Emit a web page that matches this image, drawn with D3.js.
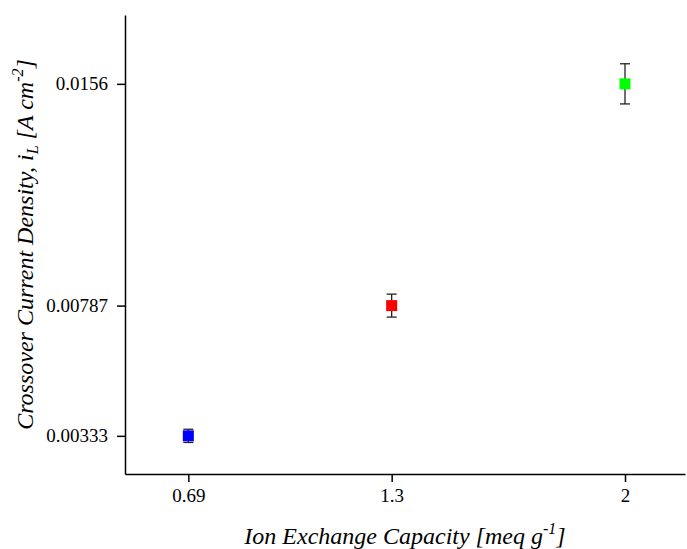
<!DOCTYPE html>
<html>
<head>
<meta charset="utf-8">
<script src="https://cdn.jsdelivr.net/npm/d3@7"></script>
<style>
  body { margin: 0; background: #fff; }
  svg { display: block; font-family: "Liberation Serif", "Times New Roman", serif; }
  .axis path, .axis line { stroke: #000; stroke-width: 1.5; }
  .axis text { font-family: "Liberation Serif", "Times New Roman", serif; font-size: 19px; fill: #000; }
</style>
</head>
<body>
<div id="chart"></div>
<script>
// data
const capacity = [0.69, 1.3, 2];
const current = [0.00333, 0.00787, 0.0156];
const errors = [0.00023, 0.0004, 0.0007];
const colors = ["#0000ff", "#ff0000", "#00ff00"];
const xTicks = [0.69, 1.3, 2];
const yTicks = [0.00333, 0.00787, 0.0156];

const width = 687, height = 549;
const margin = { top: 15, left: 125, right: 2, bottom: 75 };
const chartWidth = width - margin.left - margin.right;
const chartHeight = height - margin.top - margin.bottom;

const points = capacity.map((c, i) => ({ x: c, y: current[i], e: errors[i], color: colors[i] }));

const xScale = d3.scaleLinear()
  .domain([0.5, 2.18])
  .range([0, chartWidth]);

const yScale = d3.scaleLinear()
  .domain([0.002, 0.018])
  .range([chartHeight, 0]);

const svg = d3.select("#chart")
  .append("svg")
  .attr("width", width)
  .attr("height", height);

const chart = svg.append("g")
  .attr("transform", "translate(" + margin.left + "," + margin.top + ")");

// axes
const xAxis = d3.axisBottom(xScale)
  .tickValues(xTicks)
  .tickFormat(d => String(d))
  .tickSize(8)
  .tickSizeOuter(0)
  .tickPadding(7);

const yAxis = d3.axisLeft(yScale)
  .tickValues(yTicks)
  .tickFormat(d => String(d))
  .tickSize(8)
  .tickSizeOuter(0)
  .tickPadding(9);

chart.append("g")
  .attr("class", "axis x-axis")
  .attr("transform", "translate(0," + chartHeight + ")")
  .call(xAxis);

chart.append("g")
  .attr("class", "axis y-axis")
  .call(yAxis);

// error bars
const capW = 5;
const bars = chart.append("g").attr("class", "error-bars")
  .selectAll("g")
  .data(points)
  .join("g")
  .attr("stroke", "#222")
  .attr("stroke-width", 1.3);

bars.append("line")
  .attr("x1", d => xScale(d.x)).attr("x2", d => xScale(d.x))
  .attr("y1", d => yScale(d.y - d.e)).attr("y2", d => yScale(d.y + d.e));
bars.append("line")
  .attr("x1", d => xScale(d.x) - capW).attr("x2", d => xScale(d.x) + capW)
  .attr("y1", d => yScale(d.y + d.e)).attr("y2", d => yScale(d.y + d.e));
bars.append("line")
  .attr("x1", d => xScale(d.x) - capW).attr("x2", d => xScale(d.x) + capW)
  .attr("y1", d => yScale(d.y - d.e)).attr("y2", d => yScale(d.y - d.e));

// markers
const size = 11;
chart.append("g").attr("class", "markers")
  .selectAll("rect")
  .data(points)
  .join("rect")
  .attr("x", d => xScale(d.x) - size / 2)
  .attr("y", d => yScale(d.y) - size / 2)
  .attr("width", size)
  .attr("height", size)
  .attr("fill", d => d.color);

// axis titles
const xTitle = svg.append("text")
  .attr("x", margin.left + chartWidth / 2)
  .attr("y", 544)
  .attr("text-anchor", "middle")
  .attr("font-size", 24)
  .attr("font-style", "italic");
xTitle.append("tspan").text("Ion Exchange Capacity [meq g");
xTitle.append("tspan").attr("dy", -10).attr("font-size", 16).text("-1");
xTitle.append("tspan").attr("dy", 10).text("]");

const yTitle = svg.append("text")
  .attr("transform", "translate(33," + (margin.top + chartHeight / 2) + ") rotate(-90)")
  .attr("text-anchor", "middle")
  .attr("font-size", 24)
  .attr("font-style", "italic");
yTitle.append("tspan").text("Crossover Current Density, i");
yTitle.append("tspan").attr("dy", 5).attr("font-size", 16).text("L");
yTitle.append("tspan").attr("dy", -5).text(" [A cm");
yTitle.append("tspan").attr("dy", -10).attr("font-size", 16).text("-2");
yTitle.append("tspan").attr("dy", 10).text("]");
</script>
</body>
</html>
